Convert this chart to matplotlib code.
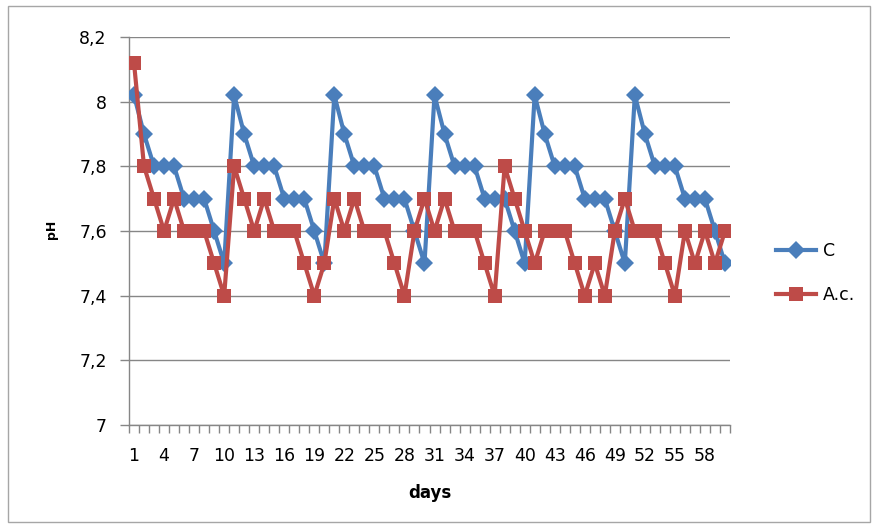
import matplotlib
matplotlib.use("Agg")
import matplotlib.pyplot as plt
from matplotlib.patches import Rectangle
from matplotlib.ticker import FixedLocator, FuncFormatter

plt.rcParams['font.family'] = ['DejaVu Sans']

days = list(range(1, 61))
c_values = [
    8.02, 7.9, 7.8, 7.8, 7.8, 7.7, 7.7, 7.7, 7.6, 7.5,
    8.02, 7.9, 7.8, 7.8, 7.8, 7.7, 7.7, 7.7, 7.6, 7.5,
    8.02, 7.9, 7.8, 7.8, 7.8, 7.7, 7.7, 7.7, 7.6, 7.5,
    8.02, 7.9, 7.8, 7.8, 7.8, 7.7, 7.7, 7.7, 7.6, 7.5,
    8.02, 7.9, 7.8, 7.8, 7.8, 7.7, 7.7, 7.7, 7.6, 7.5,
    8.02, 7.9, 7.8, 7.8, 7.8, 7.7, 7.7, 7.7, 7.6, 7.5,
]
ac_values = [
    8.12, 7.8, 7.7, 7.6, 7.7, 7.6, 7.6, 7.6, 7.5, 7.4,
    7.8, 7.7, 7.6, 7.7, 7.6, 7.6, 7.6, 7.5, 7.4, 7.5,
    7.7, 7.6, 7.7, 7.6, 7.6, 7.6, 7.5, 7.4, 7.6, 7.7,
    7.6, 7.7, 7.6, 7.6, 7.6, 7.5, 7.4, 7.8, 7.7, 7.6,
    7.5, 7.6, 7.6, 7.6, 7.5, 7.4, 7.5, 7.4, 7.6, 7.7,
    7.6, 7.6, 7.6, 7.5, 7.4, 7.6, 7.5, 7.6, 7.5, 7.6,
]
series_names = ["C", "A.c."]
y_ticks = [7.0, 7.2, 7.4, 7.6, 7.8, 8.0, 8.2]
x_tick_labels = list(range(1, 61, 3))

W, H = 876, 528
fig = plt.figure(figsize=(W / 100, H / 100), dpi=100)
fig.patches.append(Rectangle((8 / W, 6 / H), (870 - 8) / W, (522 - 6) / H,
                             transform=fig.transFigure, fill=False,
                             edgecolor='#a6a6a6', linewidth=1))

left, right, top, bottom = 129, 730, 37, 425
ax = fig.add_axes([left / W, 1 - bottom / H, (right - left) / W, (bottom - top) / H])

blue = '#4a7ebb'
red = '#be4b48'
ax.plot(days, c_values, color=blue, linewidth=3, marker='D', markersize=9.5,
        markeredgewidth=0, label=series_names[0], zorder=3)
ax.plot(days, ac_values, color=red, linewidth=3, marker='s', markersize=10,
        markeredgewidth=0, label=series_names[1], zorder=4)

ax.set_xlim(0.5, 60.5)
ax.set_ylim(7.0, 8.2)
ax.yaxis.set_major_locator(FixedLocator(y_ticks))

def fmt(v, pos):
    s = ('%.1f' % v).rstrip('0').rstrip('.')
    return s.replace('.', ',')

ax.yaxis.set_major_formatter(FuncFormatter(fmt))
ax.grid(axis='y', color='#868686', linewidth=1)
ax.set_axisbelow(True)

fs = 12.5
ax.set_xticks(x_tick_labels)
ax.set_xticklabels([str(d) for d in x_tick_labels])
ax.set_xticks([d + 0.5 for d in range(0, 61)], minor=True)
ax.tick_params(axis='x', which='major', length=0, pad=16, labelsize=fs, colors='#000000')
ax.tick_params(axis='x', which='minor', length=6, color='#868686', width=1, direction='out')
ax.tick_params(axis='y', which='major', length=6.5, color='#868686', width=1, pad=9.5,
               labelsize=fs)

for s in ['top', 'right']:
    ax.spines[s].set_visible(False)
for s in ['left', 'bottom']:
    ax.spines[s].set_color('#868686')
    ax.spines[s].set_linewidth(1)

ax.set_xlabel('days', fontsize=12, fontweight='bold')
ax.xaxis.set_label_coords(0.5, -0.153)
ax.set_ylabel('pH', fontsize=9, fontweight='bold')
ax.yaxis.set_label_coords(-0.118, 0.505)

fig.legend(loc='center left', bbox_to_anchor=(767 / W, 1 - 273 / H), frameon=False,
           fontsize=fs, handlelength=2.3, handletextpad=0.4, labelspacing=1.45,
           borderpad=0)

fig.savefig('out.png', dpi=100)
